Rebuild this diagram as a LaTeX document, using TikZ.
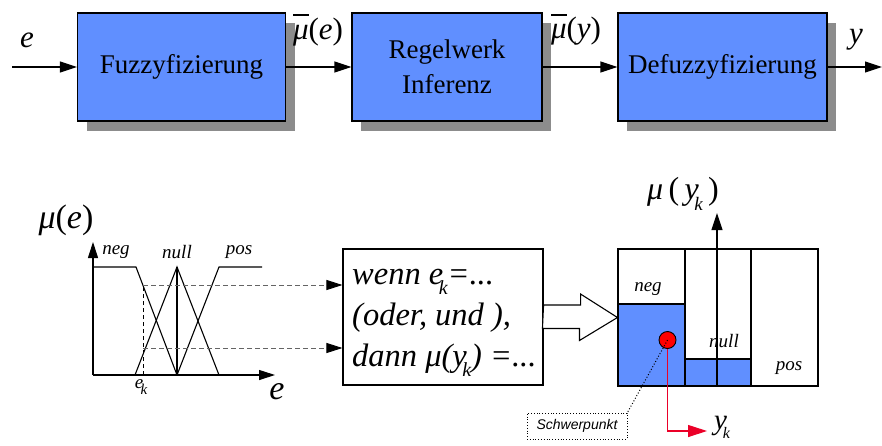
\documentclass[tikz,border=0pt]{standalone}
\usepackage{fontspec}
\setmainfont{Liberation Serif}
\newfontfamily\notesans{Liberation Sans}
\usetikzlibrary{arrows.meta,shadows,calc}
\definecolor{blkblue}{RGB}{96,143,255}
\definecolor{shadowgray}{RGB}{140,140,140}
\definecolor{cgred}{RGB}{235,0,40}
\definecolor{dashgray}{RGB}{100,100,100}
\newcommand\fsz[1]{\fontsize{#1}{#1}\selectfont}
% mu with a bar over it
\newcommand\mubar{\leavevmode\rlap{\raisebox{0.74em}{\rule{0.5em}{0.055em}}}\textit{μ}}
% lowered italic index k
\newcommand\idxk[1]{\kern-0.14em\raisebox{-0.32em}{\fontsize{#1}{#1}\selectfont\itshape k}}
\begin{document}
\begin{tikzpicture}[x=1pt,y=-1pt,
  sig/.style={line width=1.1pt,-{Triangle[length=17pt,width=11pt]}},
  blk/.style={draw,line width=1.1pt,fill=blkblue,minimum height=108pt,inner sep=0pt,
    align=center,font=\fontsize{27}{35}\selectfont,
    general shadow={fill=shadowgray,shadow xshift=9pt,shadow yshift=-10pt}},
  lab/.style={inner sep=0pt,font=\fsz{31}},
  curve/.style={line width=1.1pt},
  fname/.style={inner sep=0pt,font=\fsz{19}\itshape},
  dsh/.style={dashed,dash pattern=on 5pt off 3pt,dashgray,line width=0.9pt,
    -{Triangle[length=16pt,width=10pt,color=black]}},
]
\useasboundingbox (0,0) rectangle (882,445);

% ---- signal chain ----
\node[blk,minimum width=208pt] (fz) at (181.5,67) {Fuzzyfizierung};
\node[blk,minimum width=190pt] (rw) at (447,67) {Regelwerk\\Inferenz};
\node[blk,minimum width=209pt] (dz) at (722.5,67) {Defuzzyfizierung};
\coordinate (ein) at (12,67);
\coordinate (yout) at (882,67);
\draw[sig] (ein) -- (fz);
\draw[sig] (fz) -- (rw);
\draw[sig] (rw) -- (dz);
\draw[sig] (dz) -- (yout);
\node[lab] (le) at (27,40) {\textit{e}};
\node[lab] (lmue) at (318,30) {\mubar(\textit{e})};
\node[lab] (lmuy) at (576,30) {\mubar(\textit{y})};
\node[lab] (ly) at (856,40) {\textit{y}};

% ---- input membership functions ----
\coordinate (o) at (93,375);
\coordinate (ytop) at (93,242);
\coordinate (xend) at (275,375);
\draw[line width=1.1pt,-{Triangle[length=16pt,width=10pt]}] (o) -- (ytop);
\draw[line width=1.1pt,-{Triangle[length=16pt,width=10pt]}] (o) -- (xend);
\node[lab,font=\fsz{34}] (lmu) at (66,220) {\textit{μ}(\textit{e})};
\draw[curve] (93,267) -- (136,267) -- (177,375);
\draw[curve] (135,375) -- (177,267) -- (219,375);
\draw[curve] (177,267) -- (177,375);
\draw[curve] (177,375) -- (219,267) -- (262,267);
\node[fname] (fneg) at (116,252) {neg};
\node[fname] (fnull) at (177,252) {null};
\node[fname] (fpos) at (239,252) {pos};
\node[lab,font=\fsz{34}] (le2) at (277,392) {\textit{e}};
\node[inner sep=0pt,font=\fsz{19}] (lek) at (141,387) {\textit{e}\idxk{15}};

% ---- rule base ----
\node[draw,line width=1.1pt,minimum width=200pt,minimum height=136pt,inner sep=0pt] (rules) at (443,317) {};
\node[inner sep=0pt,anchor=base west,align=left,font=\fontsize{32.5}{41}\selectfont\itshape]
  (rtext) at (352,366) {wenn \textit{e}\idxk{20}=...\\(oder, und ),\\dann \textit{μ}(\textit{y}\idxk{20}) =...};

\coordinate (d1) at (143,285);
\coordinate (d2) at (143,348);
\draw[dashed,dash pattern=on 4pt off 3pt,line width=0.8pt] (143,375) -- (d1);
\draw[dsh] (d1) -- (rules.west |- d1);
\draw[dsh] (d2) -- (rules.west |- d2);

% ---- output sets ----
\fill[blkblue] (618,304) rectangle (685,386);
\fill[blkblue] (685,359) rectangle (751,386);
\node[draw,line width=1.1pt,minimum width=200pt,minimum height=137pt,inner sep=0pt] (ob) at (718,317.5) {};
\draw[line width=1.1pt] (618,304) -- (685,304);
\draw[line width=1.1pt] (685,359) -- (751,359);
\draw[line width=1.1pt] (685,249) -- (685,386);
\draw[line width=1.1pt] (751,249) -- (751,386);
\coordinate (mub) at (717,386);
\coordinate (mut) at (717,213);
\draw[line width=1.1pt,-{Triangle[length=17pt,width=11pt]}] (mub) -- (mut);
\node[lab,font=\fsz{32}] (lmuyk) at (683,194) {\textit{μ}\,(\,\textit{y}\idxk{19}\,)};
\node[fname] (oneg) at (648,289) {neg};
\node[fname] (onull) at (724,341) {null};
\node[fname] (opos) at (789,368) {pos};

% ---- hollow arrow into the output sets ----
\draw[line width=1.1pt,fill=white] ($(rules.east)+(0,-12)$) -- ++(37,0) -- ++(0,-11)
  -- (ob.west) -- ++(-38,23) -- ++(0,-12) -- ++(-37,0) -- cycle;

% ---- centre of gravity ----
\coordinate (ykc) at (707,431);
\node[draw,dotted,line width=0.8pt,minimum width=100pt,minimum height=26pt,inner sep=0pt,
  font=\notesans\itshape\fsz{14}] (swb) at (577,426) {Schwerpunkt};
\node[circle,draw,line width=0.9pt,fill=red,minimum size=17pt,inner sep=0pt] (sp) at (667.5,340) {};
\draw[cgred,line width=1.1pt,-{Triangle[length=19pt,width=12pt]}] (sp.south) |- (ykc);
\draw[dotted,line width=1pt] (sp.center) -- (swb.north east);
\node[inner sep=0pt,font=\fsz{29}] (lyk) at (722,427) {\textit{y}\idxk{16}};
\end{tikzpicture}
\end{document}
